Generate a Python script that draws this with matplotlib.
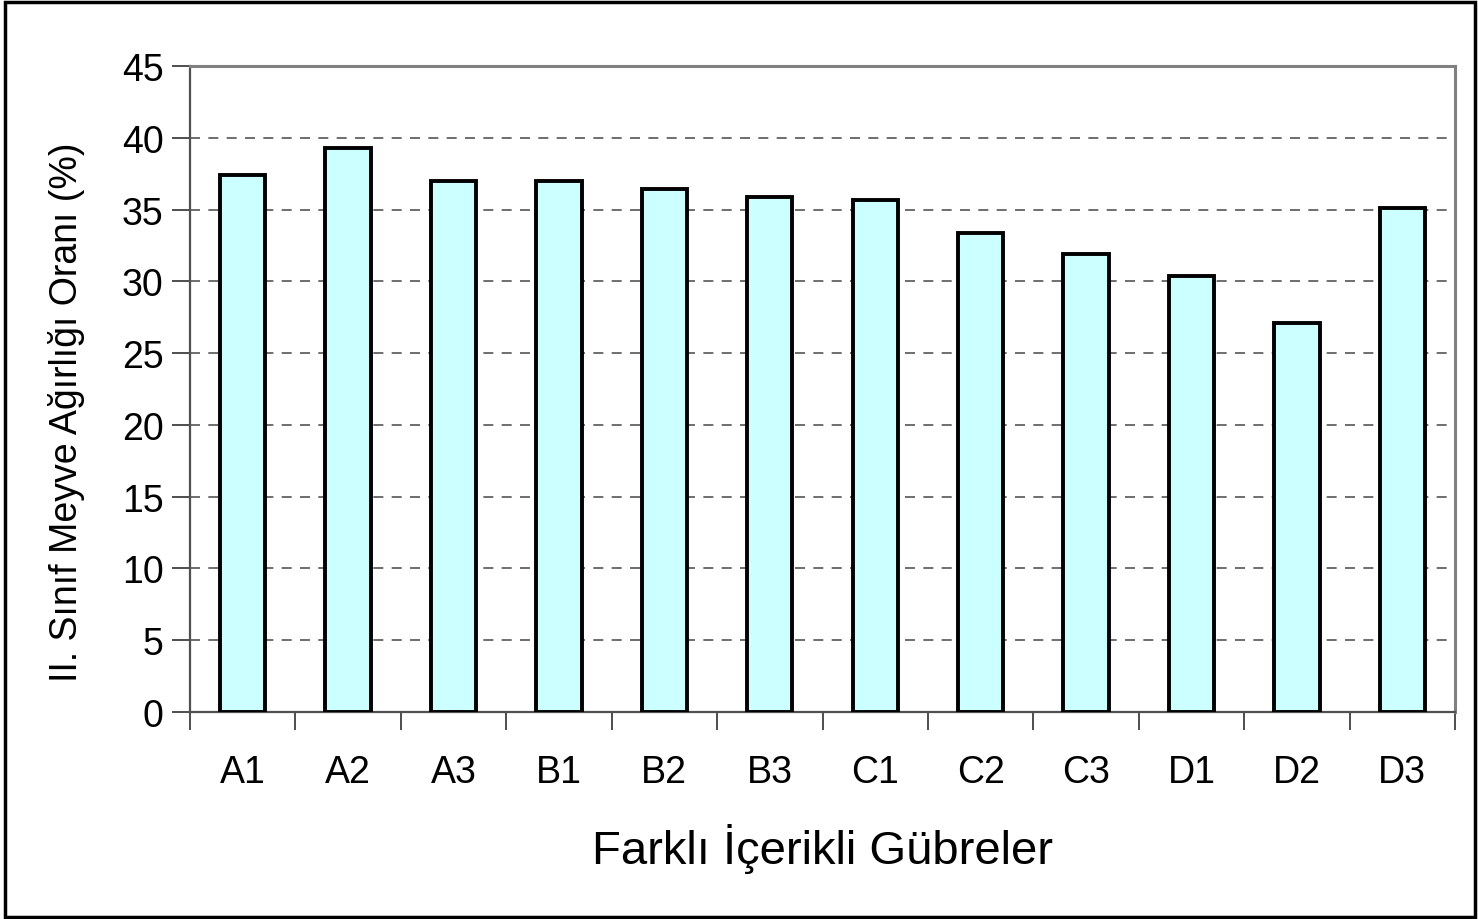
import matplotlib
matplotlib.use('Agg')
import matplotlib.pyplot as plt
from matplotlib.patches import Rectangle
import numpy as np

# veriler
kategoriler = ['A1', 'A2', 'A3', 'B1', 'B2', 'B3', 'C1', 'C2', 'C3', 'D1', 'D2', 'D3']
oranlar = [37.4, 39.3, 37.0, 37.0, 36.4, 35.9, 35.7, 33.4, 31.9, 30.4, 27.1, 35.1]
yticks = [0, 5, 10, 15, 20, 25, 30, 35, 40, 45]

plt.rcParams['font.family'] = ['Liberation Sans', 'DejaVu Sans']

W, H = 1478, 920
fig = plt.figure(figsize=(W / 100, H / 100), dpi=100)
ax = fig.add_axes([190 / W, 1 - 713 / H, (1455 - 190) / W, (713 - 67) / H])

x = np.arange(len(kategoriler))
ax.bar(x, oranlar, width=0.43, color='#CCFFFF', edgecolor='black',
       linewidth=2.8, zorder=3)

ax.set_xlim(-0.5, len(kategoriler) - 0.5)
ax.set_ylim(0, 45)
ax.set_yticks(yticks)
ax.set_yticklabels([str(v) for v in yticks], fontsize=27)

# x ekseni: etiketler ortada, çentikler kategori sınırlarında
ax.set_xticks(x)
ax.set_xticklabels(kategoriler, fontsize=27)
ax.tick_params(axis='x', which='major', length=0, pad=30)
ax.set_xticks(np.arange(-0.5, len(kategoriler)), minor=True)
ax.tick_params(axis='x', which='minor', length=13, width=1.3, color='#404040')
ax.tick_params(axis='y', length=13, width=1.3, color='#404040', pad=6)

ax.yaxis.grid(True, linestyle=(0, (6, 5)), color='#555555', linewidth=1.2, zorder=0)
ax.set_axisbelow(True)

for s in ['top', 'right']:
    ax.spines[s].set_color('#808080')
    ax.spines[s].set_linewidth(2.2)
for s in ['left', 'bottom']:
    ax.spines[s].set_color('#505050')
    ax.spines[s].set_linewidth(1.6)

ax.set_xlabel('Farklı İçerikli Gübreler', fontsize=34, labelpad=24)
ax.set_ylabel('II. Sınıf Meyve Ağırlığı Oranı (%)', fontsize=27)
ax.yaxis.set_label_coords(-0.083, 0.465)

# dış çerçeve
fig.patches.append(Rectangle((5 / W, 2 / H), (W - 8) / W, (H - 5) / H,
                             transform=fig.transFigure, fill=False,
                             edgecolor='black', linewidth=2.5))

fig.savefig('out.png', dpi=100)
